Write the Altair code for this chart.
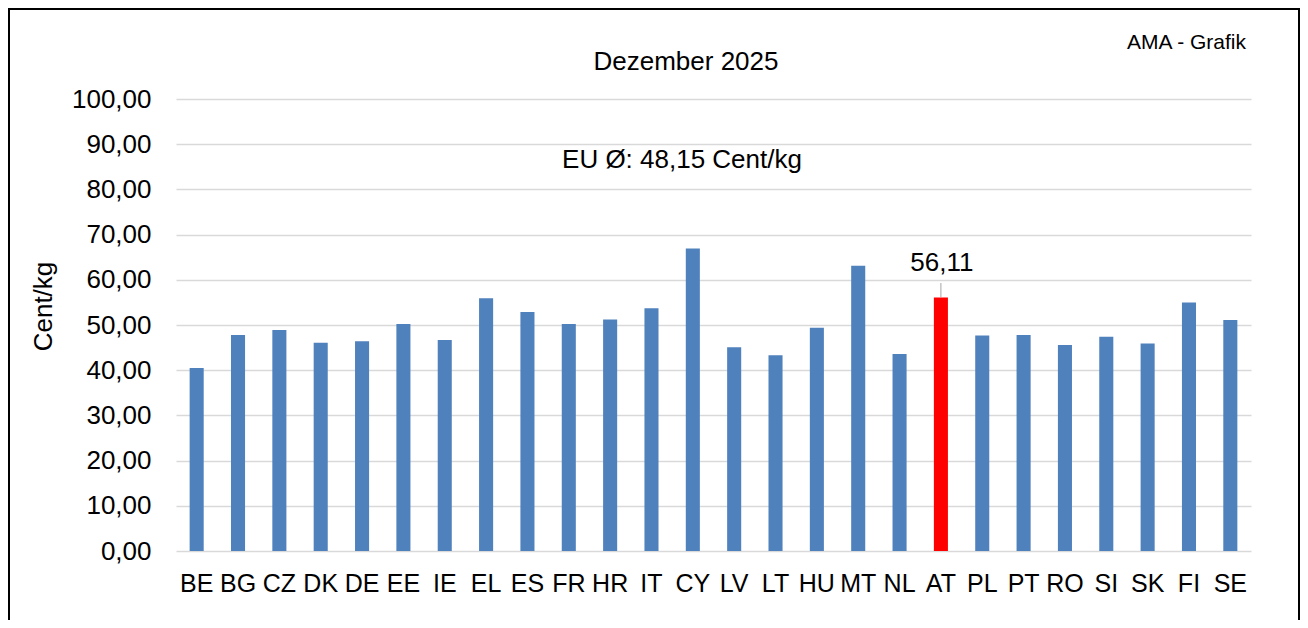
import altair as alt
import pandas as pd

countries = ["BE", "BG", "CZ", "DK", "DE", "EE", "IE", "EL", "ES", "FR", "HR", "IT", "CY",
             "LV", "LT", "HU", "MT", "NL", "AT", "PL", "PT", "RO", "SI", "SK", "FI", "SE"]
prices = [40.5, 47.8, 48.9, 46.1, 46.4, 50.2, 46.7, 55.9, 52.9, 50.2, 51.2, 53.7, 66.9,
          45.1, 43.3, 49.4, 63.1, 43.6, 56.11, 47.7, 47.8, 45.6, 47.4, 45.9, 55.0, 51.1]
highlight = "AT"
highlight_label = "56,11"
chart_title = "Dezember 2025"
avg_text = "EU Ø: 48,15 Cent/kg"
source_text = "AMA - Grafik"
y_title = "Cent/kg"

FONT = "Liberation Sans"
W, H = 1075, 452

df = pd.DataFrame({"land": countries, "preis": prices})
df["hl"] = df["land"] == highlight
one = pd.DataFrame({"a": [0]})

x_enc = alt.X("land:N", sort=countries,
              scale=alt.Scale(paddingInner=0.66, paddingOuter=0.33),
              axis=alt.Axis(title=None, labelAngle=0, labelFontSize=25, labelFont=FONT,
                            labelColor="black", labelPadding=20, ticks=False, domain=False,
                            grid=False))
y_enc = alt.Y("preis:Q", scale=alt.Scale(domain=[0, 100], nice=False),
              axis=alt.Axis(values=list(range(0, 101, 10)),
                            labelExpr="replace(format(datum.value, '.2f'), '.', ',')",
                            labelFontSize=26, labelFont=FONT, labelColor="black",
                            labelPadding=25, ticks=False, domain=False,
                            gridColor="#d9d9d9", gridWidth=1.5,
                            title=y_title, titleFont=FONT, titleFontSize=26,
                            titleFontWeight="normal", titleColor="black",
                            titleX=-133, titleY=207, titleAngle=270,
                            titleBaseline="middle", titleAlign="center"))

bars = alt.Chart(df).mark_bar().encode(
    x=x_enc, y=y_enc,
    color=alt.condition("datum.hl", alt.value("#ff0000"), alt.value("#4f81bd")),
)

hl_df = df[df["hl"]]
label = alt.Chart(hl_df).mark_text(font=FONT, fontSize=26, color="black",
                                   baseline="middle", dy=-34, dx=1).encode(
    x=alt.X("land:N", sort=countries), y=alt.Y("preis:Q"), text=alt.value(highlight_label))
leader = alt.Chart(hl_df).mark_rule(color="#a6a6a6", strokeWidth=1).encode(
    x=alt.X("land:N", sort=countries), y=alt.Y("preis:Q"), y2=alt.value(184))

title_t = alt.Chart(one).mark_text(font=FONT, fontSize=26, color="black",
                                   align="center", baseline="middle").encode(
    x=alt.value(510), y=alt.value(-37), text=alt.value(chart_title))
avg_t = alt.Chart(one).mark_text(font=FONT, fontSize=26, color="black",
                                 align="center", baseline="middle").encode(
    x=alt.value(506), y=alt.value(61), text=alt.value(avg_text))
src_t = alt.Chart(one).mark_text(font=FONT, fontSize=21, color="black",
                                 align="right", baseline="middle").encode(
    x=alt.value(1070), y=alt.value(-56), text=alt.value(source_text))
frame = alt.Chart(one).mark_rect(filled=False, stroke="black", strokeWidth=2).encode(
    x=alt.value(-167), x2=alt.value(1123), y=alt.value(-90), y2=alt.value(600))

chart = alt.layer(bars, leader, label, title_t, avg_t, src_t, frame).properties(
    width=W, height=H,
    autosize=alt.AutoSizeParams(type="none"),
    padding={"left": 168, "top": 91, "right": 49, "bottom": 69},
    background="white",
).configure_view(stroke=None)

chart.save("out.html", embed_options={"renderer": "svg", "actions": False})
